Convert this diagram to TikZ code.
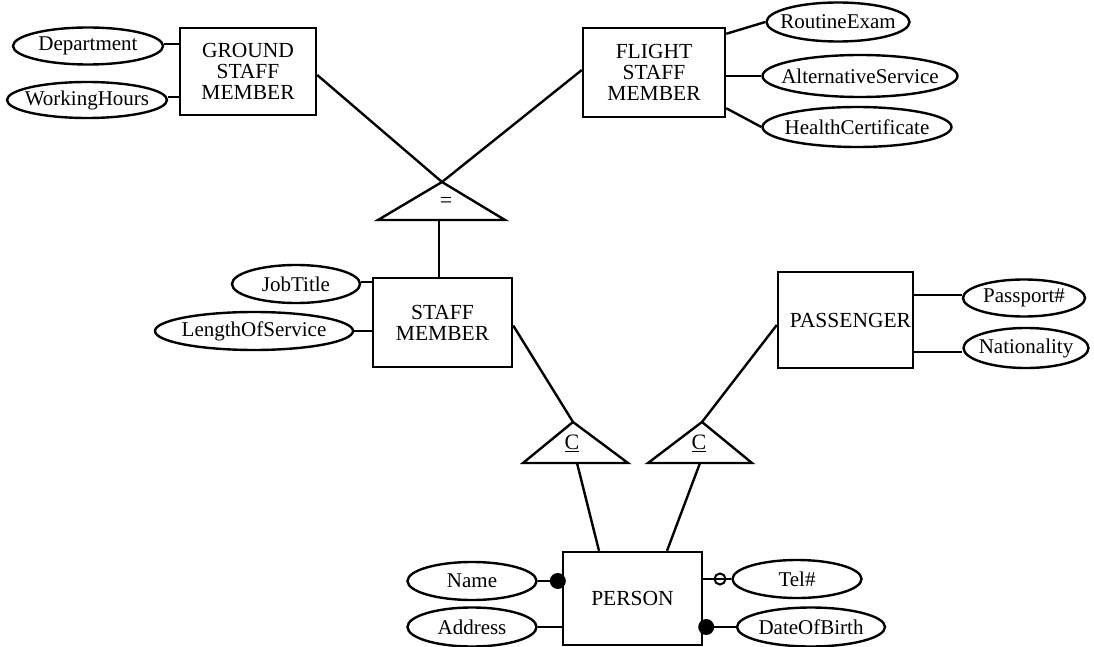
\documentclass[tikz,border=0pt]{standalone}
\usepackage{fontspec}
\setmainfont{Liberation Serif}
\usetikzlibrary{shapes.geometric}
\begin{document}
\begin{tikzpicture}[x=1pt,y=-1pt, line width=2.4pt,
 ent/.style={draw, rectangle, inner sep=0pt, align=center, font=\fontsize{21.5}{21}\selectfont},
 attr/.style={draw, ellipse, inner sep=0pt, font=\fontsize{21}{22}\selectfont},
 tri/.style={draw, line join=miter},
 dotfull/.style={circle, fill=black, inner sep=0pt, minimum size=16pt},
 dotopen/.style={circle, draw, line width=2pt, inner sep=0pt, minimum size=11pt},
 sym/.style={inner sep=0pt, font=\fontsize{22}{22}\selectfont}]
\useasboundingbox (0,0) rectangle (1094,647);

% entities
\node[ent, minimum width=136pt, minimum height=87pt] (gsm) at (248,71.5) {GROUND\\STAFF\\MEMBER};
\node[ent, minimum width=142pt, minimum height=89pt] (fsm) at (654,72.5) {FLIGHT\\STAFF\\MEMBER};
\node[ent, minimum width=139pt, minimum height=89pt] (sm) at (442.5,322.5) {STAFF\\MEMBER};
\node[ent, minimum width=135pt, minimum height=96pt] (pas) at (845.5,320) {\makebox[0pt]{\hspace{10pt}\raisebox{-6pt}{PASSENGER}}};
\node[ent, minimum width=139pt, minimum height=93pt] (per) at (632.5,598.5) {PERSON};

% attributes
\node[attr, minimum width=150pt, minimum height=37pt] (dep) at (88,46) {\makebox[0pt]{Department}};
\node[attr, minimum width=160pt, minimum height=36pt] (wh) at (87,100) {\makebox[0pt]{WorkingHours}};
\node[attr, minimum width=143pt, minimum height=39pt] (re) at (838,22) {\makebox[0pt]{RoutineExam}};
\node[attr, minimum width=195pt, minimum height=42pt] (as) at (860,76) {\makebox[0pt]{AlternativeService}};
\node[attr, minimum width=189pt, minimum height=40pt] (hc) at (857,127) {\makebox[0pt]{HealthCertificate}};
\node[attr, minimum width=128pt, minimum height=38pt] (jt) at (296,284) {\makebox[0pt]{JobTitle}};
\node[attr, minimum width=198pt, minimum height=38pt] (los) at (254,331) {\makebox[0pt]{\raisebox{-5pt}{LengthOfService}}};
\node[attr, minimum width=122pt, minimum height=37pt] (pp) at (1024,298) {\makebox[0pt]{Passport\#}};
\node[attr, minimum width=125pt, minimum height=40pt] (nat) at (1026,348) {\makebox[0pt]{Nationality}};
\node[attr, minimum width=129pt, minimum height=38pt] (nm) at (472,581) {\makebox[0pt]{Name}};
\node[attr, minimum width=129pt, minimum height=39pt] (ad) at (472,627) {\makebox[0pt]{Address}};
\node[attr, minimum width=129pt, minimum height=38pt] (tel) at (797,579) {\makebox[0pt]{Tel\#}};
\node[attr, minimum width=148pt, minimum height=39pt] (dob) at (811,627) {\makebox[0pt]{DateOfBirth}};

% triangles
\coordinate (eqA) at (442,182); \coordinate (eqL) at (378,220); \coordinate (eqR) at (505,220);
\coordinate (c1A) at (573,422); \coordinate (c1L) at (523,463); \coordinate (c1R) at (628,463);
\coordinate (c2A) at (702,422); \coordinate (c2L) at (648,463); \coordinate (c2R) at (752,463);
\draw[tri] (eqA) -- (eqL) -- (eqR) -- cycle;
\draw[tri] (c1A) -- (c1L) -- (c1R) -- cycle;
\draw[tri] (c2A) -- (c2L) -- (c2R) -- cycle;
\node[sym] (eqs) at (446,202) {=};
\node[sym] (c1s) at (572,443) {\underline{C}};
\node[sym] (c2s) at (699,443) {\underline{C}};
\coordinate (eqB) at (439,220);
\coordinate (c1B) at (577,463);
\coordinate (c2B) at (700,463);

% connector end points
\coordinate (gsmE) at ([yshift=-3.5pt]gsm.east);
\coordinate (fsmW) at ([yshift=2.5pt]fsm.west);
\coordinate (smE) at ([yshift=-3pt]sm.east);
\coordinate (pasW) at ([yshift=-5pt]pas.west);
\coordinate (perL) at ([xshift=-33.5pt]per.north);
\coordinate (perR) at ([xshift=34.5pt]per.north);
\coordinate (depE) at ([yshift=2pt]dep.east);
\coordinate (whE) at ([yshift=3pt]wh.east);
\coordinate (fsmNE) at ([yshift=-7pt]fsm.north east);
\coordinate (fsmSE) at ([yshift=10pt]fsm.south east);
\coordinate (jtE) at ([yshift=2pt]jt.east);
\coordinate (ppW) at ([yshift=3pt]pp.west);
\coordinate (natW) at ([yshift=-4pt]nat.west);

% generalisation lines
\draw (gsmE) -- (eqA);
\draw (fsmW) -- (eqA);
\draw (eqB) -- (eqB |- sm.north);
\draw (smE) -- (c1A);
\draw (pasW) -- (c2A);
\draw (c1B) -- (perL);
\draw (c2B) -- (perR);

% attribute lines
\draw (depE) -- (gsm.west |- depE);
\draw (whE) -- (gsm.west |- whE);
\draw (fsmNE) -- (re.west);
\draw (as.west) -- (fsm.east |- as.west);
\draw (fsmSE) -- (hc.west);
\draw (jtE) -- (sm.west |- jtE);
\draw (los.east) -- (sm.west |- los.east);
\draw (ppW) -- (pas.east |- ppW);
\draw (natW) -- (pas.east |- natW);
\draw (nm.east) -- (per.west |- nm.east);
\draw (ad.east) -- (per.west |- ad.east);
\draw (tel.west) -- (per.east |- tel.west);
\draw (dob.west) -- (per.east |- dob.west);
\node[dotfull] (nmdot) at ([xshift=-4pt]per.west |- nm.east) {};
\node[dotfull] (dobdot) at ([xshift=3pt]per.east |- dob.west) {};
\node[dotopen] (teldot) at (720,579) {};
\end{tikzpicture}
\end{document}
